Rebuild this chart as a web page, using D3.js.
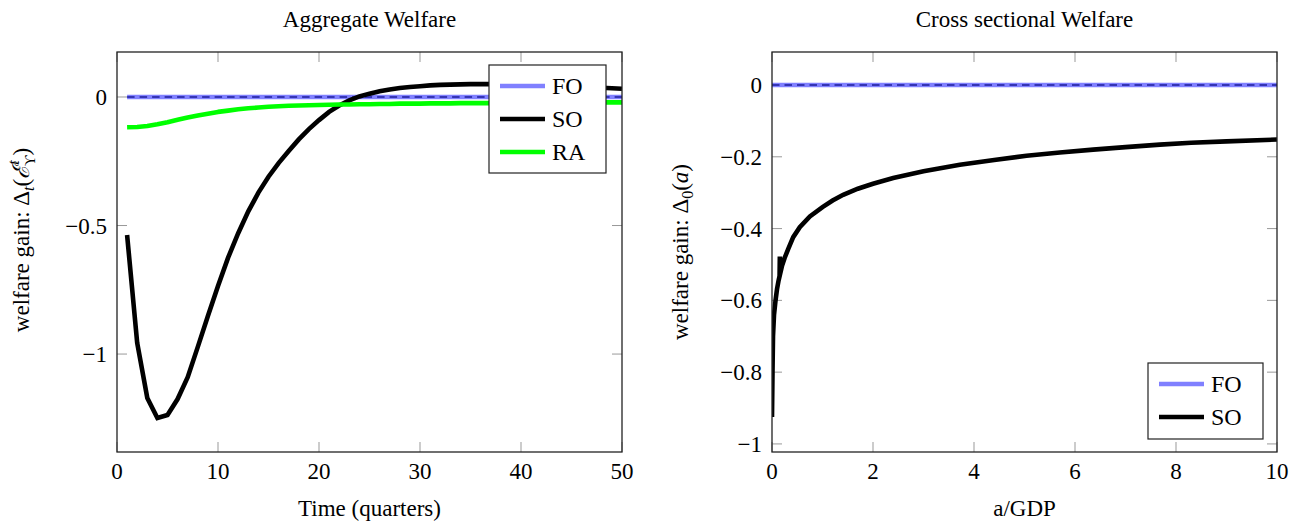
<!DOCTYPE html>
<html>
<head>
<meta charset="utf-8">
<script src="https://cdnjs.cloudflare.com/ajax/libs/d3/7.8.5/d3.min.js"></script>
<style>
    body { margin: 0; background: #fff; }
    svg text { font-family: "Liberation Serif", "Times New Roman", serif; fill: #000; }
</style>
</head>
<body>
<svg id="chart" width="1314" height="527"></svg>
<script>
// ---- data ----
var quarters = d3.range(1, 51);
var fo_aggregate = [0, 0, 0, 0, 0, 0, 0, 0, 0, 0, 0, 0, 0, 0, 0, 0, 0, 0, 0, 0, 0, 0, 0, 0, 0,
                    0, 0, 0, 0, 0, 0, 0, 0, 0, 0, 0, 0, 0, 0, 0, 0, 0, 0, 0, 0, 0, 0, 0, 0, 0];
var so_aggregate = [-0.537, -0.957, -1.171, -1.249, -1.237, -1.175, -1.09, -0.972, -0.852, -0.735,
                    -0.625, -0.53, -0.445, -0.372, -0.31, -0.257, -0.21, -0.165, -0.125, -0.09,
                    -0.058, -0.033, -0.013, 0.002, 0.013, 0.022, 0.029, 0.035, 0.039, 0.042,
                    0.045, 0.047, 0.048, 0.049, 0.05, 0.05, 0.05, 0.049, 0.049, 0.048,
                    0.047, 0.046, 0.045, 0.043, 0.042, 0.04, 0.038, 0.036, 0.034, 0.032];
var ra_aggregate = [-0.118, -0.117, -0.113, -0.106, -0.098, -0.089, -0.08, -0.072, -0.065, -0.058,
                    -0.053, -0.048, -0.044, -0.041, -0.038, -0.036, -0.034, -0.033, -0.032, -0.031,
                    -0.03, -0.029, -0.029, -0.028, -0.028, -0.027, -0.027, -0.026, -0.026, -0.026,
                    -0.025, -0.025, -0.025, -0.024, -0.024, -0.024, -0.024, -0.023, -0.023, -0.023,
                    -0.023, -0.023, -0.022, -0.022, -0.022, -0.022, -0.022, -0.021, -0.021, -0.021];

var assets = [0, 0.01, 0.02, 0.04, 0.07, 0.1, 0.13, 0.15, 0.155, 0.16, 0.2, 0.25, 0.32, 0.42, 0.55,
              0.75, 1.0, 1.2, 1.41, 1.7, 2.0, 2.4, 3.0, 3.72, 4.4, 5.04, 5.7, 6.36, 7.0, 7.68,
              8.3, 9.0, 10];
var so_cross = [-0.925, -0.8, -0.7, -0.64, -0.6, -0.568, -0.545, -0.532, -0.478, -0.527, -0.503,
                -0.482, -0.457, -0.424, -0.396, -0.366, -0.34, -0.322, -0.306, -0.289, -0.275,
                -0.259, -0.24, -0.222, -0.209, -0.197, -0.188, -0.18, -0.173, -0.166, -0.161,
                -0.157, -0.152];
var fo_cross = [0, 0, 0, 0, 0, 0, 0, 0, 0, 0, 0, 0, 0, 0, 0, 0, 0, 0, 0, 0, 0, 0, 0, 0, 0, 0,
                0, 0, 0, 0, 0, 0, 0];

var agg_xticks = [0, 10, 20, 30, 40, 50],
    agg_yticks = [-1, -0.5, 0],
    cross_xticks = [0, 2, 4, 6, 8, 10],
    cross_yticks = [-1, -0.8, -0.6, -0.4, -0.2, 0];

var fmt = d3.format("~g"),
    FONT = "23px";

function setup_axes(svg, ctx) {
    var g = svg.append("g");

    // ticks inside the frame, on all four sides
    var ticks = g.append("g").attr("stroke", "#999").attr("stroke-width", 1);
    ctx.xticks.forEach(v => {
        ticks.append("line").attr("x1", ctx.x(v)).attr("x2", ctx.x(v))
            .attr("y1", ctx.top).attr("y2", ctx.top + 10);
        ticks.append("line").attr("x1", ctx.x(v)).attr("x2", ctx.x(v))
            .attr("y1", ctx.bottom).attr("y2", ctx.bottom - 10);
        g.append("text").attr("x", ctx.x(v)).attr("y", ctx.bottom + 27)
            .attr("text-anchor", "middle").style("font-size", FONT).text(fmt(v));
    });
    ctx.yticks.forEach(v => {
        ticks.append("line").attr("x1", ctx.left).attr("x2", ctx.left + 10)
            .attr("y1", ctx.y(v)).attr("y2", ctx.y(v));
        ticks.append("line").attr("x1", ctx.right).attr("x2", ctx.right - 10)
            .attr("y1", ctx.y(v)).attr("y2", ctx.y(v));
        g.append("text").attr("x", ctx.left - 10).attr("y", ctx.y(v) + 8)
            .attr("text-anchor", "end").style("font-size", FONT).text(fmt(v));
    });

    g.append("text").attr("x", (ctx.left + ctx.right) / 2).attr("y", 27)
        .attr("text-anchor", "middle").style("font-size", FONT).text(ctx.title);
    g.append("text").attr("x", (ctx.left + ctx.right) / 2).attr("y", 516)
        .attr("text-anchor", "middle").style("font-size", FONT).text(ctx.xlabel);
    return g;
}

function draw_frame(svg, ctx) {
    svg.append("rect").attr("x", ctx.left).attr("y", ctx.top)
        .attr("width", ctx.right - ctx.left).attr("height", ctx.bottom - ctx.top)
        .attr("fill", "none").attr("stroke", "#222").attr("stroke-width", 1.3);
}

function draw_series(svg, ctx, xs, ys, style) {
    var line = d3.line().x((d, i) => ctx.x(xs[i])).y(d => ctx.y(d));
    svg.append("path").datum(ys)
        .attr("fill", "none")
        .attr("stroke", style.color)
        .attr("stroke-width", style.width)
        .attr("stroke-dasharray", style.dash || null)
        .attr("stroke-linejoin", style.join || "round")
        .attr("stroke-miterlimit", 20)
        .attr("d", line);
}

function draw_legend(svg, box, entries) {
    var g = svg.append("g");
    g.append("rect").attr("x", box.x).attr("y", box.y).attr("width", box.w).attr("height", box.h)
        .attr("fill", "#fff").attr("stroke", "#222").attr("stroke-width", 1.2);
    entries.forEach((e, i) => {
        var yy = box.y + 21 + i * 33;
        g.append("line").attr("x1", box.x + 11).attr("x2", box.x + 56)
            .attr("y1", yy).attr("y2", yy)
            .attr("stroke", e.color).attr("stroke-width", e.width);
        g.append("text").attr("x", box.x + 63).attr("y", yy + 8)
            .style("font-size", "24px").text(e.name);
    });
}

var FO_STYLE = {"color": "#8080ff", "width": 4.5},
    FO_DASH = {"color": "#1c1c9c", "width": 1.6, "dash": "7.5,5"},
    SO_STYLE = {"color": "#000", "width": 4.6, "join": "miter"},
    RA_STYLE = {"color": "#00ff00", "width": 4.6};

function setup_aggregate(svg) {
    var ctx = {left: 117, right: 622, top: 52, bottom: 452,
               title: "Aggregate Welfare", xlabel: "Time (quarters)",
               xticks: agg_xticks, yticks: agg_yticks};
    ctx.x = d3.scaleLinear().domain([0, 50]).range([ctx.left, ctx.right]);
    ctx.y = d3.scaleLinear().domain([-1.381, 0.175]).range([ctx.bottom, ctx.top]);

    svg.append("clipPath").attr("id", "clip-agg").append("rect")
        .attr("x", ctx.left).attr("y", ctx.top)
        .attr("width", ctx.right - ctx.left).attr("height", ctx.bottom - ctx.top);

    setup_axes(svg, ctx);
    var plot = svg.append("g").attr("clip-path", "url(#clip-agg)");
    draw_series(plot, ctx, quarters, fo_aggregate, FO_STYLE);
    draw_series(plot, ctx, quarters, fo_aggregate, FO_DASH);
    draw_series(plot, ctx, quarters, so_aggregate, SO_STYLE);
    draw_series(plot, ctx, quarters, ra_aggregate, RA_STYLE);
    draw_frame(svg, ctx);

    draw_legend(svg, {x: 489, y: 65, w: 117, h: 108}, [
        {name: "FO", color: FO_STYLE.color, width: 4.5},
        {name: "SO", color: "#000", width: 4.6},
        {name: "RA", color: "#00ff00", width: 4.6}
    ]);

    // y label with sub/superscripts
    var lab = svg.append("text").attr("transform", "translate(29,240) rotate(-90)")
        .attr("text-anchor", "middle").style("font-size", FONT);
    lab.append("tspan").text("welfare gain:  Δ");
    lab.append("tspan").attr("dy", 5).style("font-size", "16px").style("font-style", "italic").text("t");
    lab.append("tspan").attr("dy", -5).text("(");
    lab.append("tspan").style("font-style", "italic").text("ℰ");
    lab.append("tspan").attr("dy", -10).style("font-size", "16px").style("font-style", "italic").text("t");
    lab.append("tspan").attr("dx", -6).attr("dy", 16).style("font-size", "15px").text("ϒ");
    lab.append("tspan").attr("dy", -6).text(")");
}

function setup_cross(svg) {
    var ctx = {left: 772, right: 1277, top: 52, bottom: 452,
               title: "Cross sectional Welfare", xlabel: "a/GDP",
               xticks: cross_xticks, yticks: cross_yticks};
    ctx.x = d3.scaleLinear().domain([0, 10]).range([ctx.left, ctx.right]);
    ctx.y = d3.scaleLinear().domain([-1.0225, 0.092]).range([ctx.bottom, ctx.top]);

    svg.append("clipPath").attr("id", "clip-cross").append("rect")
        .attr("x", ctx.left).attr("y", ctx.top)
        .attr("width", ctx.right - ctx.left).attr("height", ctx.bottom - ctx.top);

    setup_axes(svg, ctx);
    var plot = svg.append("g").attr("clip-path", "url(#clip-cross)");
    draw_series(plot, ctx, assets, fo_cross, FO_STYLE);
    draw_series(plot, ctx, assets, fo_cross, FO_DASH);
    draw_series(plot, ctx, assets, so_cross, SO_STYLE);
    draw_frame(svg, ctx);

    draw_legend(svg, {x: 1148, y: 363, w: 115, h: 76}, [
        {name: "FO", color: FO_STYLE.color, width: 4.5},
        {name: "SO", color: "#000", width: 4.6}
    ]);

    var lab = svg.append("text").attr("transform", "translate(688,252) rotate(-90)")
        .attr("text-anchor", "middle").style("font-size", FONT);
    lab.append("tspan").text("welfare gain:  Δ");
    lab.append("tspan").attr("dy", 5).style("font-size", "16px").text("0");
    lab.append("tspan").attr("dy", -5).text("(");
    lab.append("tspan").style("font-style", "italic").text("a");
    lab.append("tspan").text(")");
}

var svg = d3.select("#chart");
setup_aggregate(svg);
setup_cross(svg);
</script>
</body>
</html>
